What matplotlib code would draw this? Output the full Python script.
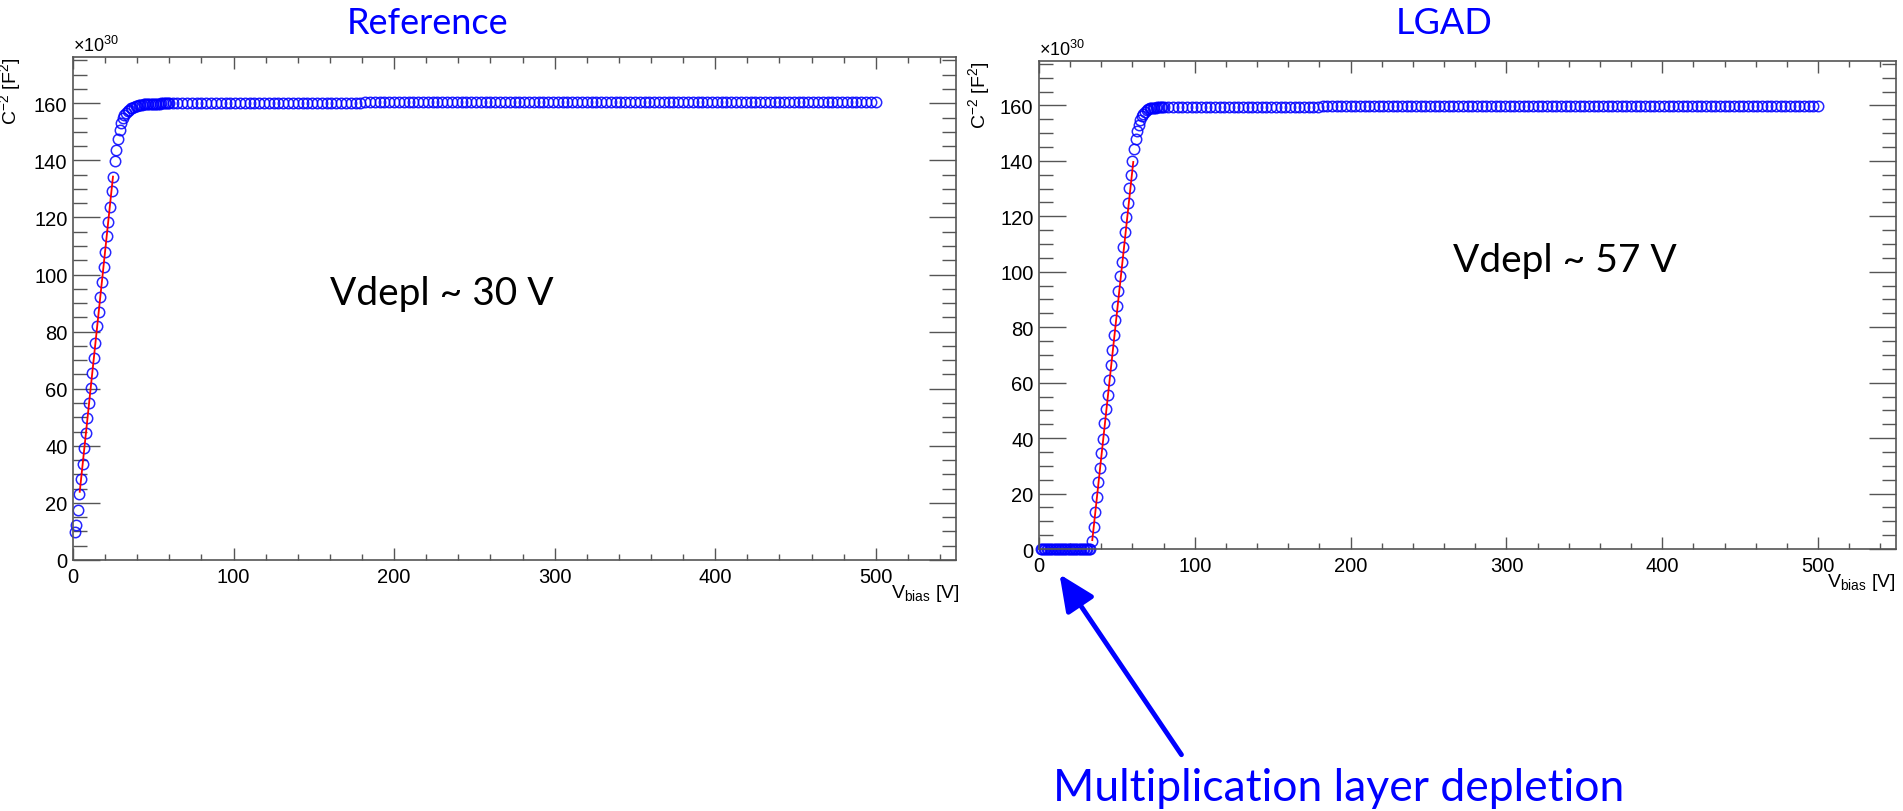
import numpy as np
import matplotlib
matplotlib.use("Agg")
import matplotlib.pyplot as plt
from matplotlib.ticker import MultipleLocator
from matplotlib.patches import FancyArrowPatch

plt.rcParams['font.family'] = ['Liberation Sans', 'DejaVu Sans']
plt.rcParams['mathtext.default'] = 'regular'

# ---- data (V_bias in V, C^-2 in units of 1e30 F^-2) ----
# Reference sensor: 1 V steps up to 60 V, then plateau
v_ref_rise = np.arange(1, 61)
c2_ref_rise = [
    9.9, 12.3, 17.5, 23.0, 28.3, 33.6, 39.1, 44.4, 49.6, 55.1,
    60.1, 65.4, 70.9, 76.1, 81.8, 87.0, 92.3, 97.5, 102.8, 108.0,
    113.6, 118.5, 123.8, 129.4, 134.3, 139.6, 143.7, 147.6, 150.6, 153.0,
    154.8, 155.9, 156.7, 157.3, 157.8, 158.2, 158.5, 158.8, 159.0, 159.2,
    159.3, 159.4, 159.5, 159.6, 159.6, 159.7, 159.7, 159.8, 159.8, 159.8,
    159.9, 159.9, 159.9, 159.9, 160.0, 160.0, 160.0, 160.0, 160.0, 160.0,
]
v_ref_flat = np.arange(62, 501, 3)
c2_ref_flat = [
    160.0, 160.0, 160.0, 160.0, 160.0, 160.0, 160.0, 160.0,
    160.2, 160.2, 160.2, 160.2, 160.2, 160.2, 160.2, 160.2, 160.2, 160.2,
    160.2, 160.2, 160.2, 160.2, 160.2, 160.2, 160.2, 160.2, 160.2, 160.2,
    160.2, 160.2, 160.2, 160.2, 160.2, 160.2, 160.2, 160.2, 160.2, 160.2,
    160.2, 160.2,
    160.5, 160.5, 160.5, 160.5, 160.5, 160.5, 160.5, 160.5, 160.5, 160.5,
    160.5, 160.5, 160.5, 160.5, 160.5, 160.5, 160.5, 160.5, 160.5, 160.5,
    160.5, 160.5, 160.5, 160.5, 160.5, 160.5, 160.5, 160.5, 160.5, 160.5,
    160.5, 160.5, 160.5, 160.5, 160.5, 160.5, 160.5, 160.5, 160.5, 160.5,
    160.5, 160.5, 160.5, 160.5, 160.5, 160.5, 160.5, 160.5, 160.5, 160.5,
    160.5, 160.5, 160.5, 160.5, 160.5, 160.5, 160.5, 160.5, 160.5, 160.5,
    160.5, 160.5, 160.5, 160.5, 160.5, 160.5, 160.5, 160.5, 160.5, 160.5,
    160.5, 160.5, 160.5, 160.5, 160.5, 160.5, 160.5, 160.5, 160.5, 160.5,
    160.5, 160.5, 160.5, 160.5, 160.5, 160.5, 160.5, 160.5, 160.5, 160.5,
    160.5, 160.5, 160.5, 160.5, 160.5, 160.5, 160.5, 160.5, 160.5, 160.5,
    160.5, 160.5, 160.5, 160.5, 160.5, 160.5, 160.5,
]
fit_ref_v = [4.2, 24.9]
fit_ref_c2 = [23.9, 134.3]

# LGAD: gain layer depletes first (C^-2 ~ 0), then bulk
v_lgad_rise = np.arange(1, 81)
c2_lgad_rise = [
    0.0, 0.0, 0.0, 0.0, 0.0, 0.0, 0.0, 0.0, 0.0, 0.0,
    0.0, 0.0, 0.0, 0.0, 0.0, 0.0, 0.0, 0.0, 0.0, 0.0,
    0.0, 0.0, 0.0, 0.0, 0.0, 0.0, 0.0, 0.0, 0.0, 0.0,
    0.0, 0.0, 0.0, 2.9, 8.0, 13.2, 18.8, 24.0, 29.3, 34.5,
    39.8, 45.3, 50.5, 55.7, 60.9, 66.3, 71.7, 77.1, 82.5, 87.6,
    93.1, 98.4, 103.5, 108.9, 114.3, 119.7, 124.8, 130.2, 135.0, 139.8,
    144.4, 148.0, 150.7, 152.8, 154.6, 156.0, 157.0, 157.7, 158.2, 158.6,
    158.9, 159.0, 159.1, 159.2, 159.2, 159.3, 159.3, 159.3, 159.3, 159.3,
]
v_lgad_flat = np.arange(83, 501, 3)
c2_lgad_flat = [
    159.4, 159.4, 159.4, 159.4, 159.4, 159.4, 159.4, 159.4, 159.4, 159.4,
    159.4, 159.4, 159.4, 159.4, 159.4, 159.4, 159.4, 159.4, 159.4, 159.4,
    159.4, 159.4, 159.4, 159.4, 159.4, 159.4, 159.4, 159.4, 159.4, 159.4,
    159.4, 159.4, 159.4,
    159.7, 159.7, 159.7, 159.7, 159.7, 159.7, 159.7, 159.7, 159.7, 159.7,
    159.7, 159.7, 159.7, 159.7, 159.7, 159.7, 159.7, 159.7, 159.7, 159.7,
    159.7, 159.7, 159.7, 159.7, 159.7, 159.7, 159.7, 159.7, 159.7, 159.7,
    159.7, 159.7, 159.7, 159.7, 159.7, 159.7, 159.7, 159.7, 159.7, 159.7,
    159.7, 159.7, 159.7, 159.7, 159.7, 159.7, 159.7, 159.7, 159.7, 159.7,
    159.7, 159.7, 159.7, 159.7, 159.7, 159.7, 159.7, 159.7, 159.7, 159.7,
    159.7, 159.7, 159.7, 159.7, 159.7, 159.7, 159.7, 159.7, 159.7, 159.7,
    159.7, 159.7, 159.7, 159.7, 159.7, 159.7, 159.7, 159.7, 159.7, 159.7,
    159.7, 159.7, 159.7, 159.7, 159.7, 159.7, 159.7, 159.7, 159.7, 159.7,
    159.7, 159.7, 159.7, 159.7, 159.7, 159.7, 159.7, 159.7, 159.7, 159.7,
    159.7, 159.7, 159.7, 159.7, 159.7, 159.7, 159.7,
]
fit_lgad_v = [34.2, 60.5]
fit_lgad_c2 = [3.2, 139.6]

W, H = 1903, 812
fig = plt.figure(figsize=(W / 100, H / 100), dpi=100)
FRAME = '#555555'


def make_axes(left, top, right, bottom, ymin, ymax):
    ax = fig.add_axes([left / W, 1 - bottom / H, (right - left) / W, (bottom - top) / H])
    ax.set_xlim(0, 550)
    ax.set_ylim(ymin, ymax)
    ax.xaxis.set_major_locator(MultipleLocator(100))
    ax.xaxis.set_minor_locator(MultipleLocator(20))
    ax.yaxis.set_major_locator(MultipleLocator(20))
    ax.yaxis.set_minor_locator(MultipleLocator(5))
    ax.tick_params(which='both', direction='in', top=True, right=True,
                   color=FRAME, width=1.0, labelsize=14.5, labelcolor='black')
    ax.tick_params(axis='x', which='major', length=8.5, pad=5)
    ax.tick_params(axis='x', which='minor', length=4.5)
    ax.tick_params(axis='y', which='major', length=19.5, pad=4)
    ax.tick_params(axis='y', which='minor', length=10)
    for s in ax.spines.values():
        s.set_color(FRAME)
        s.set_linewidth(1.2)
    ax.set_ylabel('C$^{-2}$ [F$^{2}$]', loc='top', fontsize=14)
    ax.set_xlabel('V$_{bias}$ [V]', loc='right', fontsize=14)
    ax.text(0, 1.004, '×10$^{30}$', transform=ax.transAxes, ha='left', va='bottom', fontsize=13)
    return ax


def draw(ax, v1, c1, v2, c2, fv, fc):
    mk = dict(ls='none', marker='o', ms=7.5, mfc='none', mec='blue', mew=1.1,
              alpha=0.85, clip_on=False)
    ax.plot(v1, c1, **mk)
    ax.plot(v2, c2, **mk)
    ax.plot(fv, fc, color='red', lw=1.3, zorder=5)


ax1 = make_axes(73, 58, 956, 561, 0, 176.2)
draw(ax1, v_ref_rise, c2_ref_rise, v_ref_flat, c2_ref_flat, fit_ref_v, fit_ref_c2)
ax1.yaxis.set_label_coords(-0.057, 1.0)
ax1.xaxis.set_label_coords(1.004, -0.044)

ax2 = make_axes(1039, 62, 1896, 550, 0, 176.0)
draw(ax2, v_lgad_rise, c2_lgad_rise, v_lgad_flat, c2_lgad_flat, fit_lgad_v, fit_lgad_c2)
ax2.yaxis.set_label_coords(-0.055, 1.0)
ax2.xaxis.set_label_coords(1.0, -0.045)


# slide texts (figure pixel positions)
def ftext(x, y, s, **kw):
    fig.text(x / W, 1 - y / H, s, **kw)


ftext(428, 24, 'Reference', ha='center', va='center', color='blue', fontsize=26, family='Lato')
ftext(1444, 24, 'LGAD', ha='center', va='center', color='blue', fontsize=26, family='Lato')
ftext(330, 294, 'Vdepl ~ 30 V', ha='left', va='center', color='black', fontsize=28, family='Lato')
ftext(1453, 261, 'Vdepl ~ 57 V', ha='left', va='center', color='black', fontsize=28, family='Lato')
ftext(1053, 789, 'Multiplication layer depletion', ha='left', va='center', color='blue',
      fontsize=32, family='Lato')

arrow = FancyArrowPatch((1183 / W, 1 - 758 / H), (1058 / W, 1 - 573 / H),
                        transform=fig.transFigure, arrowstyle='-|>,head_length=1.1,head_width=0.5',
                        mutation_scale=20, color='blue', lw=3.5)
fig.add_artist(arrow)

fig.savefig('out.png', dpi=100)
